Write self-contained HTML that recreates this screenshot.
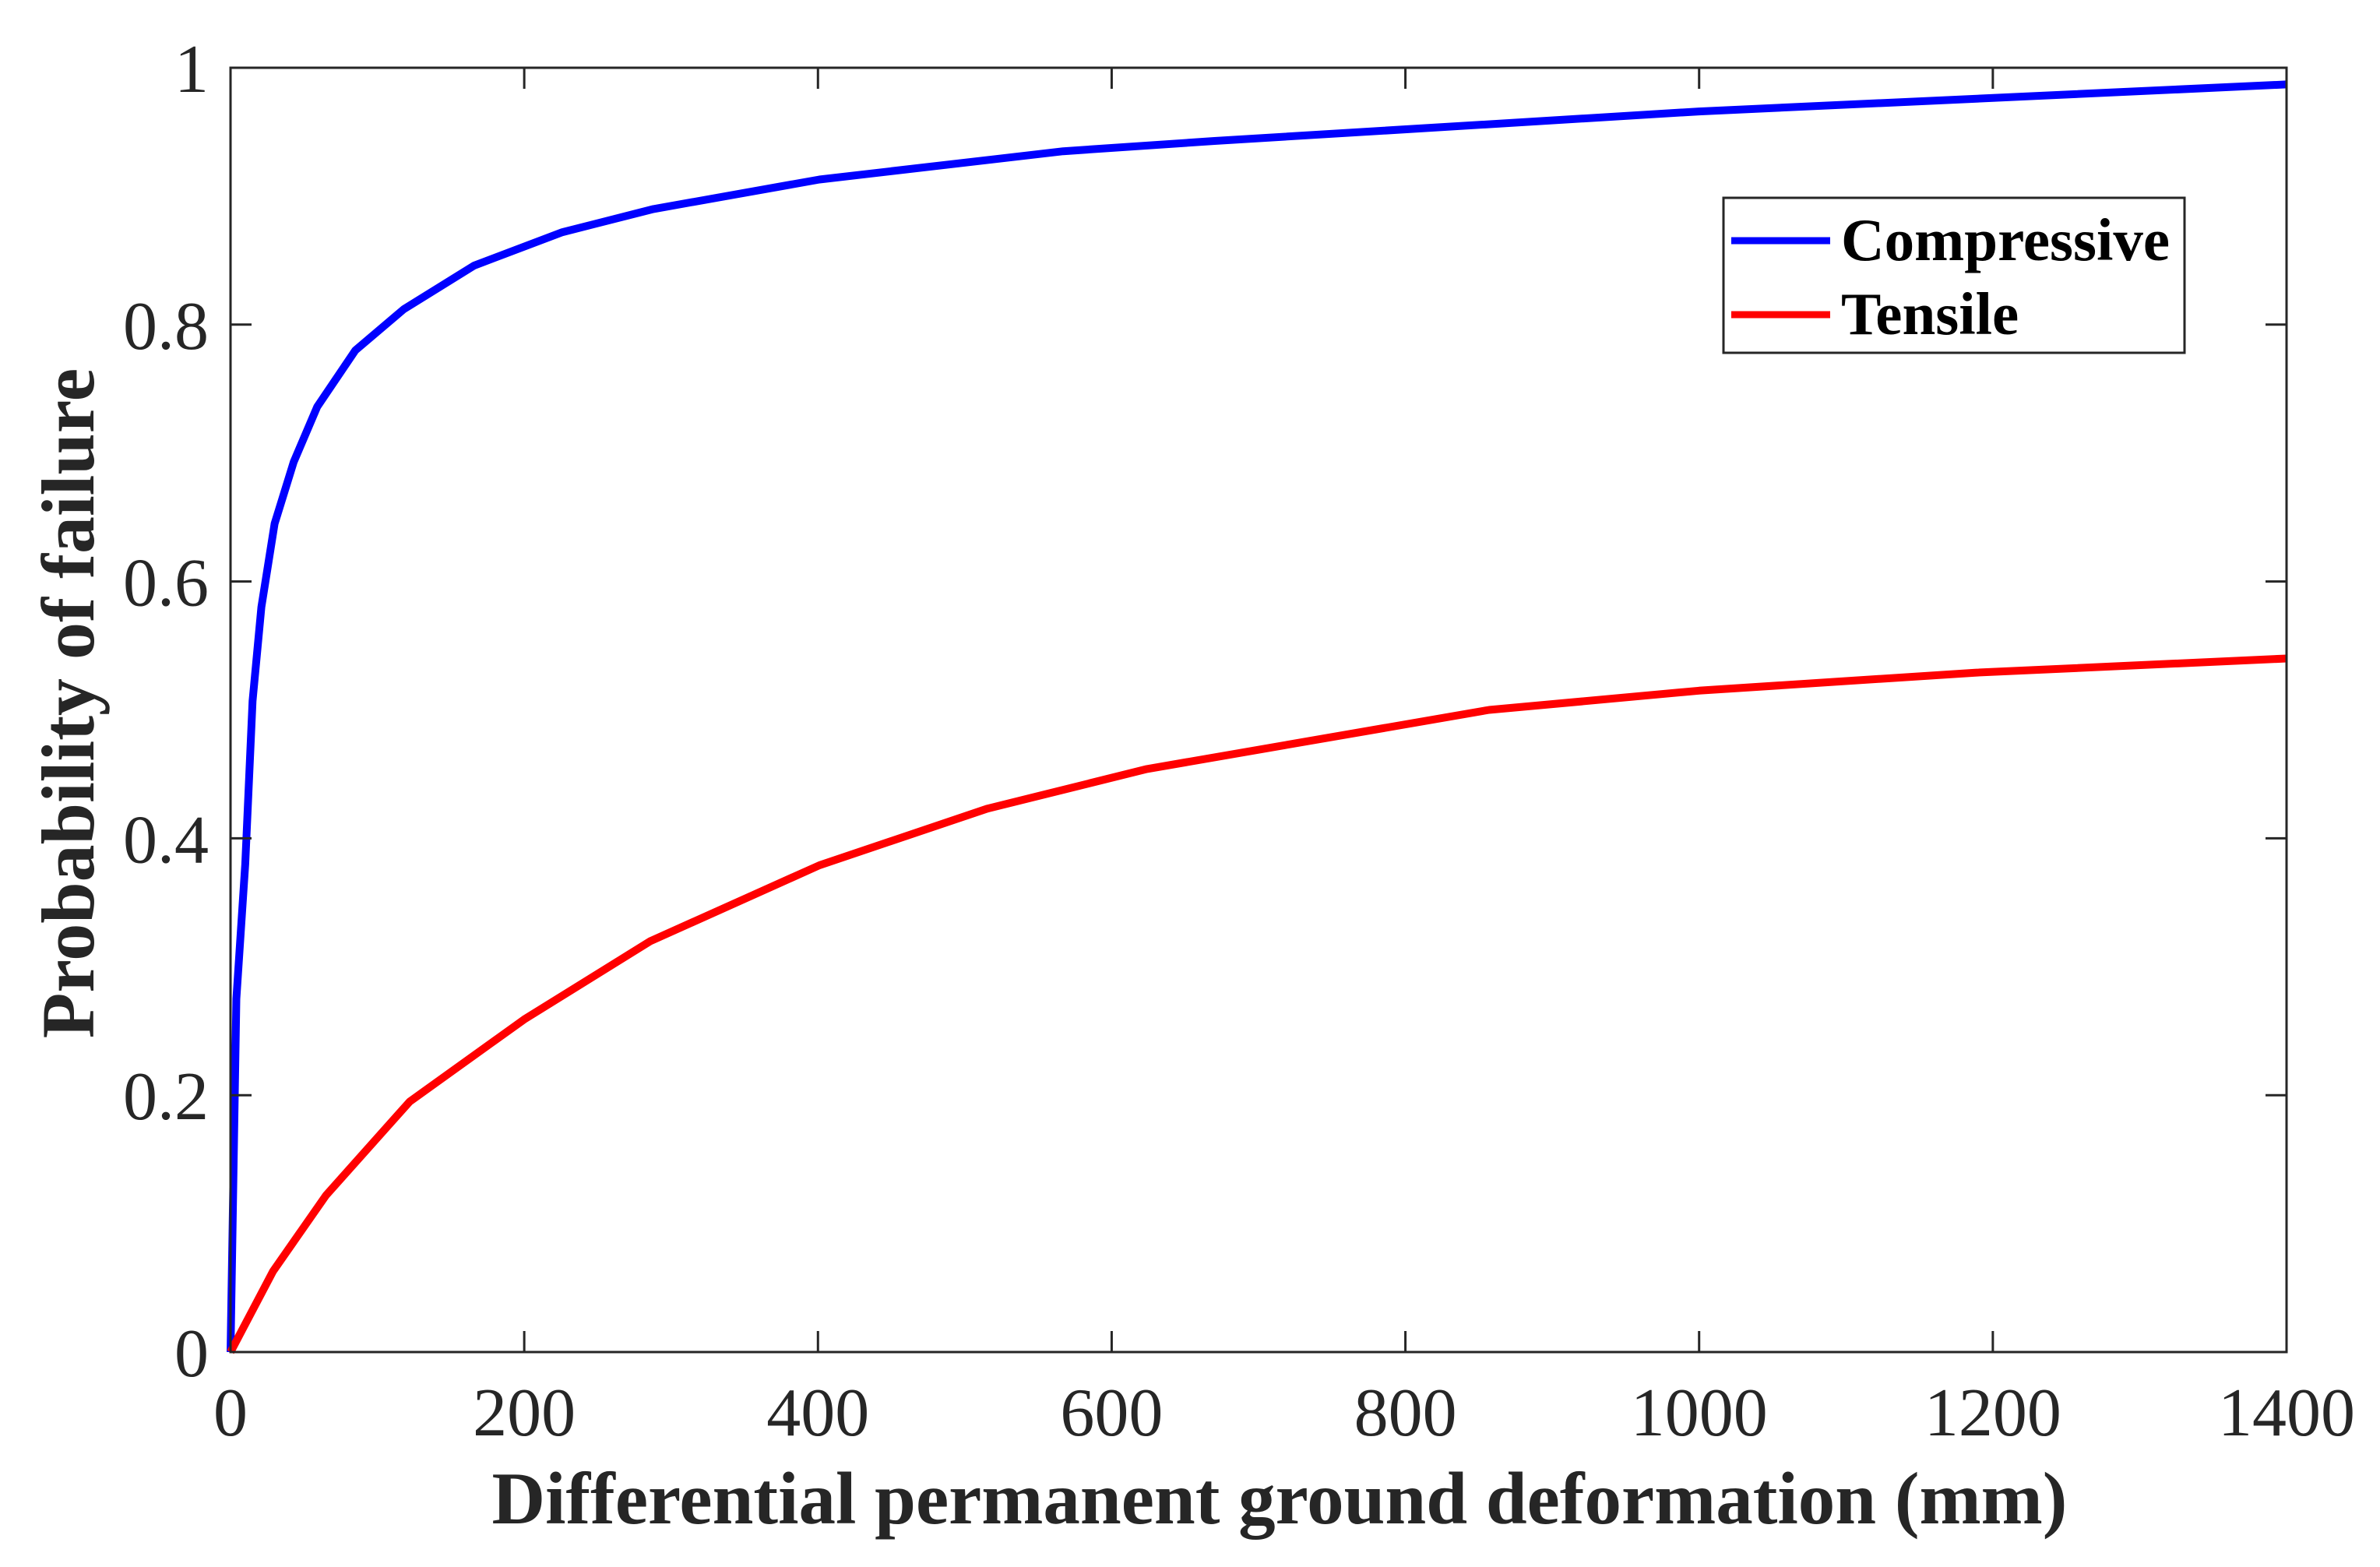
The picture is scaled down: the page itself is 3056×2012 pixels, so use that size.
<!DOCTYPE html>
<html><head><meta charset="utf-8"><style>
html,body{margin:0;padding:0;background:#fff;}
svg{display:block;}
text{font-family:"Liberation Serif","Times New Roman",serif;fill:#262626;}
</style></head><body>
<svg id="chart" width="3056" height="2012" viewBox="0 0 3056 2012" xmlns="http://www.w3.org/2000/svg">
<rect x="0" y="0" width="3056" height="2012" fill="#fff"/>
<g id="plot"></g>
<g id="axes"></g>
<text x="1643" y="1956" font-size="95" font-weight="bold" text-anchor="middle">Differential permanent ground deformation (mm)</text>
<text transform="translate(120,903) rotate(-90)" font-size="96" font-weight="bold" text-anchor="middle">Probability of failure</text>
<g>
<rect x="2213" y="254" width="592" height="199" fill="#fff" stroke="#262626" stroke-width="3"/>
<line x1="2223" y1="309" x2="2350" y2="309" stroke="#0000ff" stroke-width="9"/>
<text x="2364" y="334" font-size="77" font-weight="bold" style="fill:#000">Compressive</text>
<line x1="2223" y1="404" x2="2350" y2="404" stroke="#ff0000" stroke-width="9"/>
<text x="2364" y="429" font-size="77" font-weight="bold" style="fill:#000">Tensile</text>
</g>
</svg>
<script>
const xTicks = [0,200,400,600,800,1000,1200,1400];
const yTicks = [0,0.2,0.4,0.6,0.8,1];
const yTickLabels = ["0","0.2","0.4","0.6","0.8","1"];
const compX = [0,4,10,15,21,30,43,59,85,118,166,226,288,401,567,670,1000,1400];
const compY = [0,0.275,0.38,0.507,0.58,0.645,0.693,0.736,0.78,0.812,0.846,0.872,0.89,0.913,0.935,0.943,0.966,0.987];
const tensX = [0,29,65,122,200,286,401,515,624,857,1000,1188,1400];
const tensY = [0,0.063,0.122,0.195,0.259,0.32,0.379,0.423,0.454,0.5,0.515,0.529,0.54];

const L=296,R=2936,T=87,B=1736;
const sx=v=>L+(v-0)/(1400)*(R-L);
const sy=v=>B-(v-0)/(1)*(B-T);
const NS="http://www.w3.org/2000/svg";
const plot=document.getElementById('plot'), axes=document.getElementById('axes');
function mk(tag,parent){const e=document.createElementNS(NS,tag);parent.appendChild(e);return e;}

function series(xs,ys,color,name){
  const p=mk('polyline',plot);
  p.setAttribute('points',xs.map((x,i)=>sx(x).toFixed(1)+','+sy(ys[i]).toFixed(1)).join(' '));
  p.setAttribute('fill','none');p.setAttribute('stroke',color);p.setAttribute('stroke-width','10');
  p.setAttribute('stroke-linejoin','round');
  
  
}
series(compX,compY,'#0000ff','compressive-line');
series(tensX,tensY,'#ff0000','tensile-line');

const box=mk('rect',axes);
box.setAttribute('x',L);box.setAttribute('y',T);box.setAttribute('width',R-L);box.setAttribute('height',B-T);
box.setAttribute('fill','none');box.setAttribute('stroke','#262626');box.setAttribute('stroke-width','3');



const tl=27;
xTicks.forEach(v=>{
  const x=sx(v);
  [[B,B-tl],[T,T+tl]].forEach(([a,b])=>{
    const t=mk('line',axes);
    t.setAttribute('x1',x);t.setAttribute('x2',x);t.setAttribute('y1',a);t.setAttribute('y2',b);
    t.setAttribute('stroke','#262626');t.setAttribute('stroke-width','3');
    
    
  });
  const tx=mk('text',axes);
  tx.setAttribute('x',x);tx.setAttribute('y',1843);tx.setAttribute('font-size','88');tx.setAttribute('text-anchor','middle');
  tx.textContent=String(v);
  
  
});
yTicks.forEach((v,i)=>{
  const y=sy(v);
  [[L,L+tl],[R,R-tl]].forEach(([a,b])=>{
    const t=mk('line',axes);
    t.setAttribute('x1',a);t.setAttribute('x2',b);t.setAttribute('y1',y);t.setAttribute('y2',y);
    t.setAttribute('stroke','#262626');t.setAttribute('stroke-width','3');
    
    
  });
  const tx=mk('text',axes);
  tx.setAttribute('x',268);tx.setAttribute('y',y+31);tx.setAttribute('font-size','88');tx.setAttribute('text-anchor','end');
  tx.textContent=yTickLabels[i];
  
  
});
</script>
</body></html>
